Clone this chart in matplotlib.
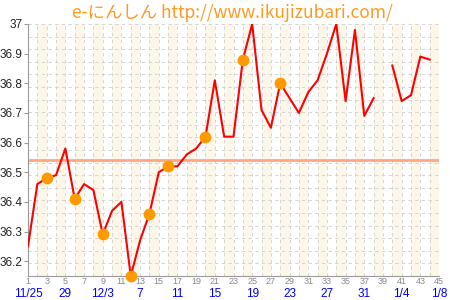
import numpy as np
import matplotlib
matplotlib.use('Agg')
import matplotlib.pyplot as plt

# basal body temperature, one value per day (nan = not measured)
days  = np.arange(1, 46)
temps = [36.25, 36.46, 36.48, 36.49, 36.58, 36.41, 36.46, 36.44, 36.29, 36.37,
         36.40, 36.15, 36.27, 36.36, 36.50, 36.52, 36.52, 36.56, 36.58, 36.62,
         36.81, 36.62, 36.62, 36.88, 37.00, 36.71, 36.65, 36.80, 36.75, 36.70,
         36.77, 36.81, 36.90, 37.00, 36.74, 36.98, 36.69, 36.75, np.nan, 36.86,
         36.74, 36.76, 36.89, 36.88, np.nan]
markDays   = [3, 6, 9, 12, 14, 16, 20, 24, 28]
dateDays   = [1, 5, 9, 13, 17, 21, 25, 29, 33, 37, 41, 45]
dateLabels = ['11/25', '29', '12/3', '7', '11', '15', '19', '23', '27', '31', '1/4', '1/8']
baseLine   = 36.54
yTicks     = [36.2, 36.3, 36.4, 36.5, 36.6, 36.7, 36.8, 36.9, 37]
yTickLabels = ['36.2', '36.3', '36.4', '36.5', '36.6', '36.7', '36.8', '36.9', '37']

temps = np.array(temps)

fig = plt.figure(figsize=(4.5, 3.0), dpi=100)
ax  = fig.add_axes([0.0622, 0.08, 0.9134, 0.84])
ax.set_xlim(1, 45)
ax.set_ylim(36.15, 37)

# cream bands every other day
for d in range(2, 45, 2):
    ax.axvspan(d, d + 1, color='#fdf7ea', lw=0, zorder=0)

# dashed grid
for d in days:
    ax.axvline(d, color='#cfcfcf', lw=0.6, ls=(0, (4, 4)), zorder=1)
for y in np.linspace(36.15, 37, 21):
    ax.axhline(y, color='#cfcfcf', lw=0.6, ls=(0, (4, 4)), zorder=1)

ax.axhline(baseLine, color='#ffa783', lw=2, zorder=2)

ax.plot(days, temps, color='#ff0000', lw=1.5, zorder=3)
ax.plot(markDays, temps[np.array(markDays) - 1], 'o', color='#ff9900',
        ms=8.5, mec='none', zorder=4, clip_on=False)

for s in ['top', 'right']:
    ax.spines[s].set_visible(False)
for s in ['left', 'bottom']:
    ax.spines[s].set_color('#999999')

ax.set_yticks(yTicks)
ax.set_yticklabels(yTickLabels, fontsize=8.5, family='Liberation Sans', color='#222222')
ax.tick_params(axis='y', length=3, width=0.8, color='#999999', pad=1)
ax.set_xticks(range(1, 46, 2))
ax.set_xticklabels([str(d) for d in range(1, 46, 2)], fontsize=6.5,
                   family='Liberation Sans', color='#888888')
ax.tick_params(axis='x', length=0, pad=1)

for d, lab in zip(dateDays, dateLabels):
    ax.text(d, -0.072, lab, transform=ax.get_xaxis_transform(), ha='center',
            va='center', fontsize=8.5, color='#0000ee', family='Liberation Sans')

fig.text(0.516, 0.958, 'e-にんしん http://www.ikujizubari.com/', ha='center',
         va='center', fontsize=12.5, color='#ff9922',
         family=['Noto Sans CJK JP', 'DejaVu Sans'])

fig.savefig('out.png', dpi=100)
